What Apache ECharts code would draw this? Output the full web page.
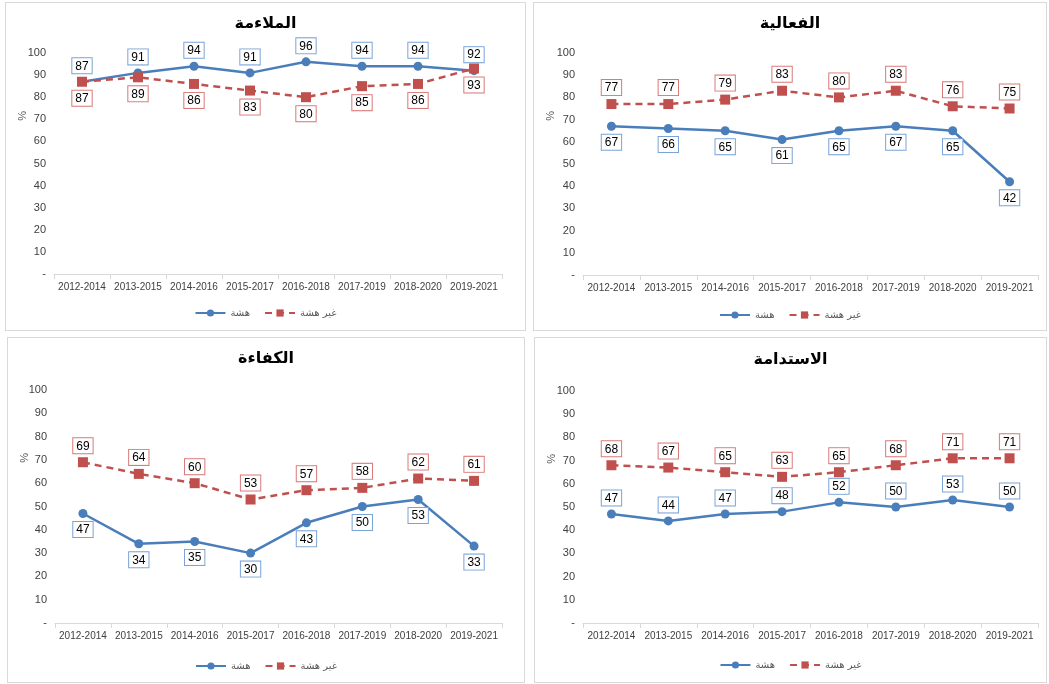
<!DOCTYPE html>
<html>
<head>
<meta charset="utf-8">
<script src="https://cdn.jsdelivr.net/npm/echarts@6/dist/echarts.min.js"></script>
<style>
  body { margin: 0; background: #fff; width: 1049px; height: 684px; position: relative; overflow: hidden; }
  .panel { position: absolute; box-sizing: border-box; border: 1px solid #d9d9d9; }
</style>
</head>
<body>
<div class="panel" id="c1" style="left:5px;top:2px;width:521px;height:329px"></div>
<div class="panel" id="c2" style="left:533px;top:2px;width:514px;height:329px"></div>
<div class="panel" id="c3" style="left:7px;top:337px;width:518px;height:346px"></div>
<div class="panel" id="c4" style="left:534px;top:337px;width:513px;height:346px"></div>
<script>
// الفترات
const periods = ['2012-2014', '2013-2015', '2014-2016', '2015-2017', '2016-2018', '2017-2019', '2018-2020', '2019-2021'];

// الملاءمة
const relevanceFragile = [87, 91, 94, 91, 96, 94, 94, 92];
const relevanceNonFragile = [87, 89, 86, 83, 80, 85, 86, 93];
// الفعالية
const effectivenessFragile = [67, 66, 65, 61, 65, 67, 65, 42];
const effectivenessNonFragile = [77, 77, 79, 83, 80, 83, 76, 75];
// الكفاءة
const efficiencyFragile = [47, 34, 35, 30, 43, 50, 53, 33];
const efficiencyNonFragile = [69, 64, 60, 53, 57, 58, 62, 61];
// الاستدامة
const sustainabilityFragile = [47, 44, 47, 48, 52, 50, 53, 50];
const sustainabilityNonFragile = [68, 67, 65, 63, 65, 68, 71, 71];

const BLUE = '#4a7ebb';
const RED = '#c0504d';

function labelStyle(pos, border) {
  return {
    show: true,
    position: pos,
    distance: 4,
    color: '#000',
    fontSize: 12,
    fontFamily: 'Liberation Sans, Arial, sans-serif',
    backgroundColor: '#fff',
    borderColor: border,
    borderWidth: 1,
    padding: [2, 3, 1, 3]
  };
}

function makeOption(cfg) {
  return {
    animation: false,
    title: {
      text: cfg.title,
      left: 'center',
      top: cfg.titleTop,
      textStyle: { fontSize: 16, fontWeight: 'bold', color: '#000', fontFamily: 'DejaVu Sans, sans-serif' }
    },
    legend: {
      bottom: cfg.legendBottom,
      left: 'center',
      itemWidth: 30,
      itemHeight: 9,
      itemGap: 14,
      textStyle: { fontSize: 10, color: '#595959', fontFamily: 'DejaVu Sans, sans-serif' },
      data: ['هشة', 'غير هشة']
    },
    grid: cfg.grid,
    graphic: [{
      type: 'text',
      left: 11,
      top: cfg.pctTop,
      rotation: Math.PI / 2,
      style: { text: '%', fontSize: 11, fill: '#595959', fontFamily: 'Liberation Sans, Arial, sans-serif' }
    }],
    xAxis: {
      type: 'category',
      data: periods,
      axisLine: { lineStyle: { color: '#d9d9d9', width: 1 } },
      axisTick: { show: true, interval: 0, length: 5, lineStyle: { color: '#d9d9d9' } },
      axisLabel: { interval: 0, color: '#404040', fontSize: 10, margin: 8, fontFamily: 'Liberation Sans, Arial, sans-serif' }
    },
    yAxis: {
      type: 'value',
      min: 0,
      max: 100,
      interval: 10,
      splitLine: { show: false },
      axisLine: { show: false },
      axisTick: { show: false },
      axisLabel: {
        color: '#404040',
        fontSize: 11,
        margin: 8,
        fontFamily: 'Liberation Sans, Arial, sans-serif',
        formatter: v => (v === 0 ? '-' : v)
      }
    },
    series: [
      {
        name: 'هشة',
        type: 'line',
        data: cfg.fragile,
        symbol: 'circle',
        symbolSize: 9,
        itemStyle: { color: BLUE },
        lineStyle: { color: BLUE, width: 2.5 },
        label: labelStyle(cfg.fragilePos, '#7aa3d8'),
        z: 3
      },
      {
        name: 'غير هشة',
        type: 'line',
        data: cfg.nonFragile,
        symbol: 'rect',
        symbolSize: 10,
        itemStyle: { color: RED },
        lineStyle: { color: RED, width: 2.5, type: [7, 5] },
        label: labelStyle(cfg.nonFragilePos, '#d97a78'),
        z: 4
      }
    ]
  };
}

const charts = [
  { id: 'c1', title: 'الملاءمة', fragile: relevanceFragile, nonFragile: relevanceNonFragile,
    fragilePos: 'top', nonFragilePos: 'bottom',
    titleTop: 8, legendBottom: 7, pctTop: 108, grid: { left: 48, right: 23, top: 50, bottom: 56 } },
  { id: 'c2', title: 'الفعالية', fragile: effectivenessFragile, nonFragile: effectivenessNonFragile,
    fragilePos: 'bottom', nonFragilePos: 'top',
    titleTop: 8, legendBottom: 5, pctTop: 108, grid: { left: 49, right: 8, top: 50, bottom: 55 } },
  { id: 'c3', title: 'الكفاءة', fragile: efficiencyFragile, nonFragile: efficiencyNonFragile,
    fragilePos: 'bottom', nonFragilePos: 'top',
    titleTop: 8, legendBottom: 6, pctTop: 115, grid: { left: 47, right: 22, top: 52, bottom: 59 } },
  { id: 'c4', title: 'الاستدامة', fragile: sustainabilityFragile, nonFragile: sustainabilityNonFragile,
    fragilePos: 'top', nonFragilePos: 'top',
    titleTop: 9, legendBottom: 7, pctTop: 116, grid: { left: 48, right: 8, top: 53, bottom: 59 } }
];

charts.forEach(c => {
  const chart = echarts.init(document.getElementById(c.id));
  chart.setOption(makeOption(c));
});
</script>
</body>
</html>
